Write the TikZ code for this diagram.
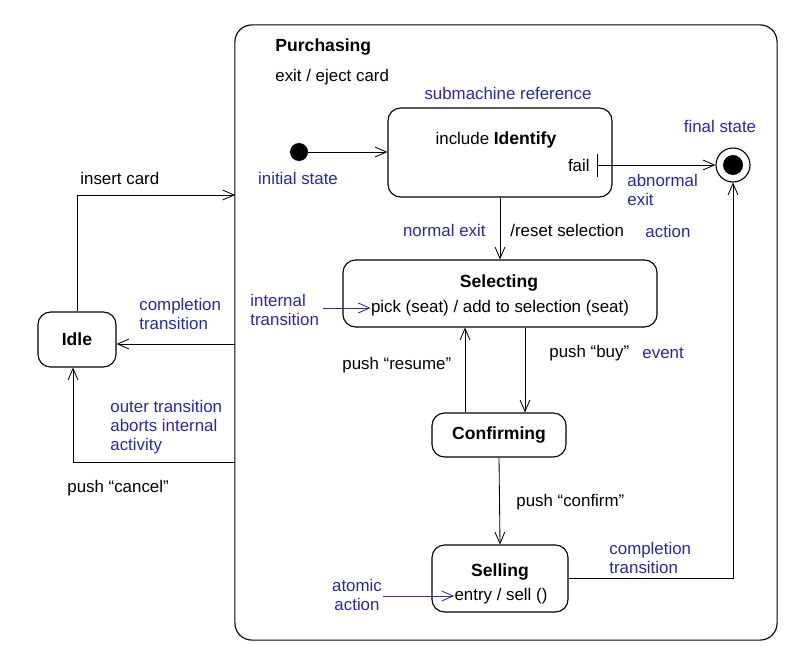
\documentclass[tikz,border=0pt]{standalone}
\usepackage{fontspec}
\setmainfont{Liberation Sans}
\usetikzlibrary{positioning,arrows.meta,calc}
\definecolor{notecolor}{RGB}{40,40,170}
\tikzset{
    state/.style = {
        draw,
        shape=rectangle,
        rounded corners=9pt,
        line width=0.8pt
    },
    title/.style = {
        font=\fontsize{12.5}{15}\selectfont\bfseries,
        inner sep=0pt
    },
    txt/.style = {
        font=\fontsize{12}{13.5}\selectfont,
        inner sep=0pt
    },
    remark/.style = {
        txt,
        text=notecolor,
        align=left
    },
    startdot/.style = {
        shape=circle,
        fill=black,
        minimum size=0.45cm,
        inner sep=0pt
    },
    finalstate/.style = {
        draw,
        shape=circle,
        minimum size=0.85cm,
        line width=0.8pt,
        inner sep=0pt
    },
    >={Straight Barb[length=8pt,width=7pt]},
}

\begin{document}
\begin{tikzpicture}[x=0.025cm, y=-0.025cm, line width=0.6pt]
            \useasboundingbox (0,0) rectangle (807,663);

            % composite state
            \node[state, rounded corners=12pt, minimum width=13.55cm, minimum height=15.375cm] (purchasing) at (506,332.5) {};
            \node[title, anchor=west] (purchtitle) at (275,47) {Purchasing};
            \node[txt, anchor=west] (exitcard) at (275,77) {exit / eject card};

            % submachine
            \node[remark] (submachine) at (508,93) {submachine reference};
            \node[state, minimum width=5.6cm, minimum height=2.225cm] (identify) at (500,152.5) {};
            \node[txt] (identtext) at (496,140) {include {\fontsize{12.5}{15}\selectfont\bfseries Identify}};
            \node[txt, anchor=east] (fail) at (590,165) {fail};
            \coordinate (failbar) at (597,165);
            \draw ($(failbar)+(0,-11)$) -- ($(failbar)+(0,12)$);

            \node[startdot] (init) at (299,152) {};
            \node[remark] (initlabel) at (298,178) {initial state};

            \node[finalstate] (final) at (733,165) {};
            \fill (final.center) circle (0.25cm);
            \node[remark] (finallabel) at (720,126) {final state};

            % simple states
            \node[state, minimum width=7.85cm, minimum height=1.675cm] (selecting) at (500,293.5) {};
            \node[title] (seltitle) at (499,283) {Selecting};
            \node[txt] (pick) at (500,308) {pick (seat) / add to selection (seat)};

            \node[state, minimum width=3.35cm, minimum height=1.1cm] (confirming) at (499,435) {};
            \node[title] at (confirming) {Confirming};

            \node[state, minimum width=3.4cm, minimum height=1.675cm] (selling) at (500,578.5) {};
            \node[title] (selltitle) at (500,572) {Selling};
            \node[txt] (entry) at (501,596) {entry / sell ()};

            \node[state, minimum width=1.95cm, minimum height=1.375cm] (idle) at (77,339.5) {};
            \node[title] at (idle) {Idle};

            % transitions inside
            \path[draw, ->] (init.east) -- (init.east -| identify.west);
            \path[draw, ->] (failbar) -- (final.west);
            \node[remark, anchor=west] (abnormal) at (627,190) {abnormal\\exit};

            \path[draw, ->] (identify.south) -- (selecting.north);
            \node[remark, anchor=east] (normalexit) at (486,230) {normal exit};
            \node[txt, anchor=west] (reset) at (510,230) {/reset selection};
            \node[remark, anchor=west] (actionlabel) at (645,231) {action};

            \coordinate (intstart) at (323,308);
            \path[draw, ->, notecolor] (intstart) -- (pick.west);
            \node[remark, anchor=west] (internal) at (250,310) {internal\\transition};

            \path[draw, ->] ($(selecting.south)+(25,0)$) -- ($(confirming.north)+(26,0)$);
            \node[txt, anchor=west] (buy) at (549,353) {push “buy”};
            \node[remark, anchor=west] (eventlabel) at (642,353) {event};

            \path[draw, ->] ($(confirming.north)+(-34,0)$) -- ($(selecting.south)+(-35,0)$);
            \node[txt, anchor=west] (resume) at (342,365) {push “resume”};

            \path[draw, ->] (confirming.south) -- (selling.north);
            \node[txt, anchor=west] (confirm) at (516,502) {push “confirm”};

            \coordinate (atomstart) at (383,596);
            \path[draw, ->, notecolor] (atomstart) -- (entry.west);
            \node[remark, align=center] (atomic) at (357,595) {atomic\\action};

            \path[draw, ->] (selling.east) -| (final.south);
            \node[remark, anchor=west] (selldone) at (609,558) {completion\\transition};

            % transitions outside
            \coordinate (cardin) at (235,195);
            \path[draw, ->] (idle.north) |- (cardin);
            \node[txt, anchor=west] (insert) at (80,178) {insert card};

            \coordinate (complout) at (235,344);
            \path[draw, ->] (complout) -- (complout -| idle.east);
            \node[remark, anchor=west] (purchdone) at (139,314) {completion\\transition};

            \coordinate (cancelout) at (235,462);
            \path[draw, ->] (cancelout) -| ($(idle.south)+(-4,0)$);
            \node[remark, anchor=west] (outer) at (110,427) {outer transition\\aborts internal\\activity};
            \node[txt, anchor=west] (cancel) at (67,488) {push “cancel”};
        \end{tikzpicture}
\end{document}
